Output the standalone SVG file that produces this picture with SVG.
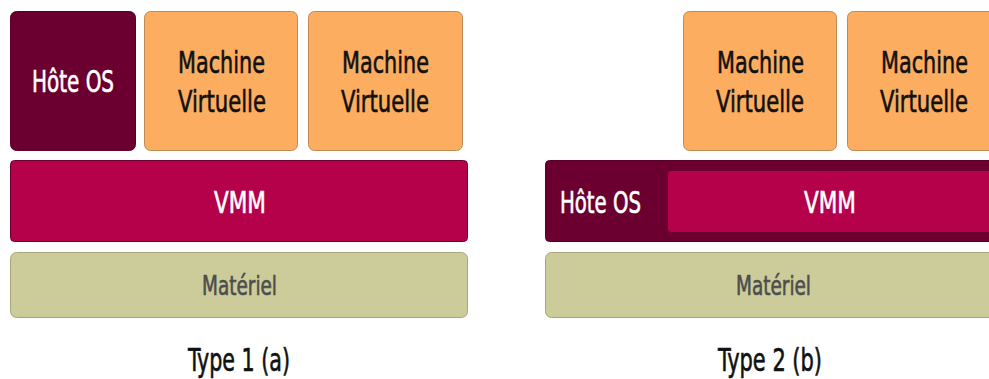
<svg xmlns="http://www.w3.org/2000/svg" width="989" height="379" viewBox="0 0 989 379">
<style>
text{font-family:"DejaVu Sans Condensed","DejaVu Sans",sans-serif;text-anchor:start;stroke-width:0.6px}
.host{fill:#6B0030;stroke:#5a0028;stroke-width:1}
.vm{fill:#FCAD60;stroke:#C08A55;stroke-width:1}
.vmm{fill:#B5004A;stroke:#6B0030;stroke-width:1}
.hw{fill:#CBCC99;stroke:#A6A67A;stroke-width:1}
.w{fill:#fff;stroke:#fff;font-size:30px}
.k{fill:#111;stroke:#111;font-size:31px}
.g{fill:#4D4D4D;stroke:#4D4D4D;font-size:27px}
.cap{fill:#111;stroke:#111;font-size:32px}
</style>
<rect width="989" height="379" fill="#fff"/>
<g id="type1">
<g id="host1"><rect class="host" x="10.5" y="11.5" width="125" height="139" rx="6"/><text class="w" x="32" y="92" textLength="82" lengthAdjust="spacingAndGlyphs">Hôte OS</text></g>
<g id="vm1a"><rect class="vm" x="144.5" y="11.5" width="153" height="139" rx="6"/><text class="k" x="178" y="73" textLength="87" lengthAdjust="spacingAndGlyphs">Machine</text><text class="k" x="178" y="112" textLength="88" lengthAdjust="spacingAndGlyphs">Virtuelle</text></g>
<g id="vm1b"><rect class="vm" x="308.5" y="11.5" width="154" height="139" rx="6"/><text class="k" x="342" y="73" textLength="87" lengthAdjust="spacingAndGlyphs">Machine</text><text class="k" x="341" y="112" textLength="88" lengthAdjust="spacingAndGlyphs">Virtuelle</text></g>
<g id="vmm1"><rect class="vmm" x="10.5" y="160.5" width="457" height="81" rx="4"/><text class="w" x="214" y="213" textLength="52" lengthAdjust="spacingAndGlyphs">VMM</text></g>
<g id="hw1"><rect class="hw" x="10.5" y="252.5" width="457" height="65" rx="6"/><text class="g" x="202" y="295" textLength="75" lengthAdjust="spacingAndGlyphs">Matériel</text></g>
<text class="cap" x="188" y="371" textLength="102" lengthAdjust="spacingAndGlyphs">Type 1 (a)</text>
</g>
<g id="type2">
<g id="vm2a"><rect class="vm" x="683.5" y="11.5" width="153" height="139" rx="6"/><text class="k" x="717" y="73" textLength="87" lengthAdjust="spacingAndGlyphs">Machine</text><text class="k" x="716" y="112" textLength="88" lengthAdjust="spacingAndGlyphs">Virtuelle</text></g>
<g id="vm2b"><rect class="vm" x="847.5" y="11.5" width="154" height="139" rx="6"/><text class="k" x="881" y="73" textLength="87" lengthAdjust="spacingAndGlyphs">Machine</text><text class="k" x="880" y="112" textLength="88" lengthAdjust="spacingAndGlyphs">Virtuelle</text></g>
<g id="host2"><rect class="host" x="545.5" y="160.5" width="460" height="81" rx="4"/><text class="w" x="560" y="213" textLength="81" lengthAdjust="spacingAndGlyphs">Hôte OS</text></g>
<g id="vmm2"><rect fill="#B5004A" x="668" y="171" width="340" height="61" rx="3"/><text class="w" x="804" y="213" textLength="52" lengthAdjust="spacingAndGlyphs">VMM</text></g>
<g id="hw2"><rect class="hw" x="545.5" y="252.5" width="460" height="65" rx="6"/><text class="g" x="736" y="295" textLength="75" lengthAdjust="spacingAndGlyphs">Matériel</text></g>
<text class="cap" x="718" y="371" textLength="104" lengthAdjust="spacingAndGlyphs">Type 2 (b)</text>
</g>
<g id="connectors"/>
</svg>
